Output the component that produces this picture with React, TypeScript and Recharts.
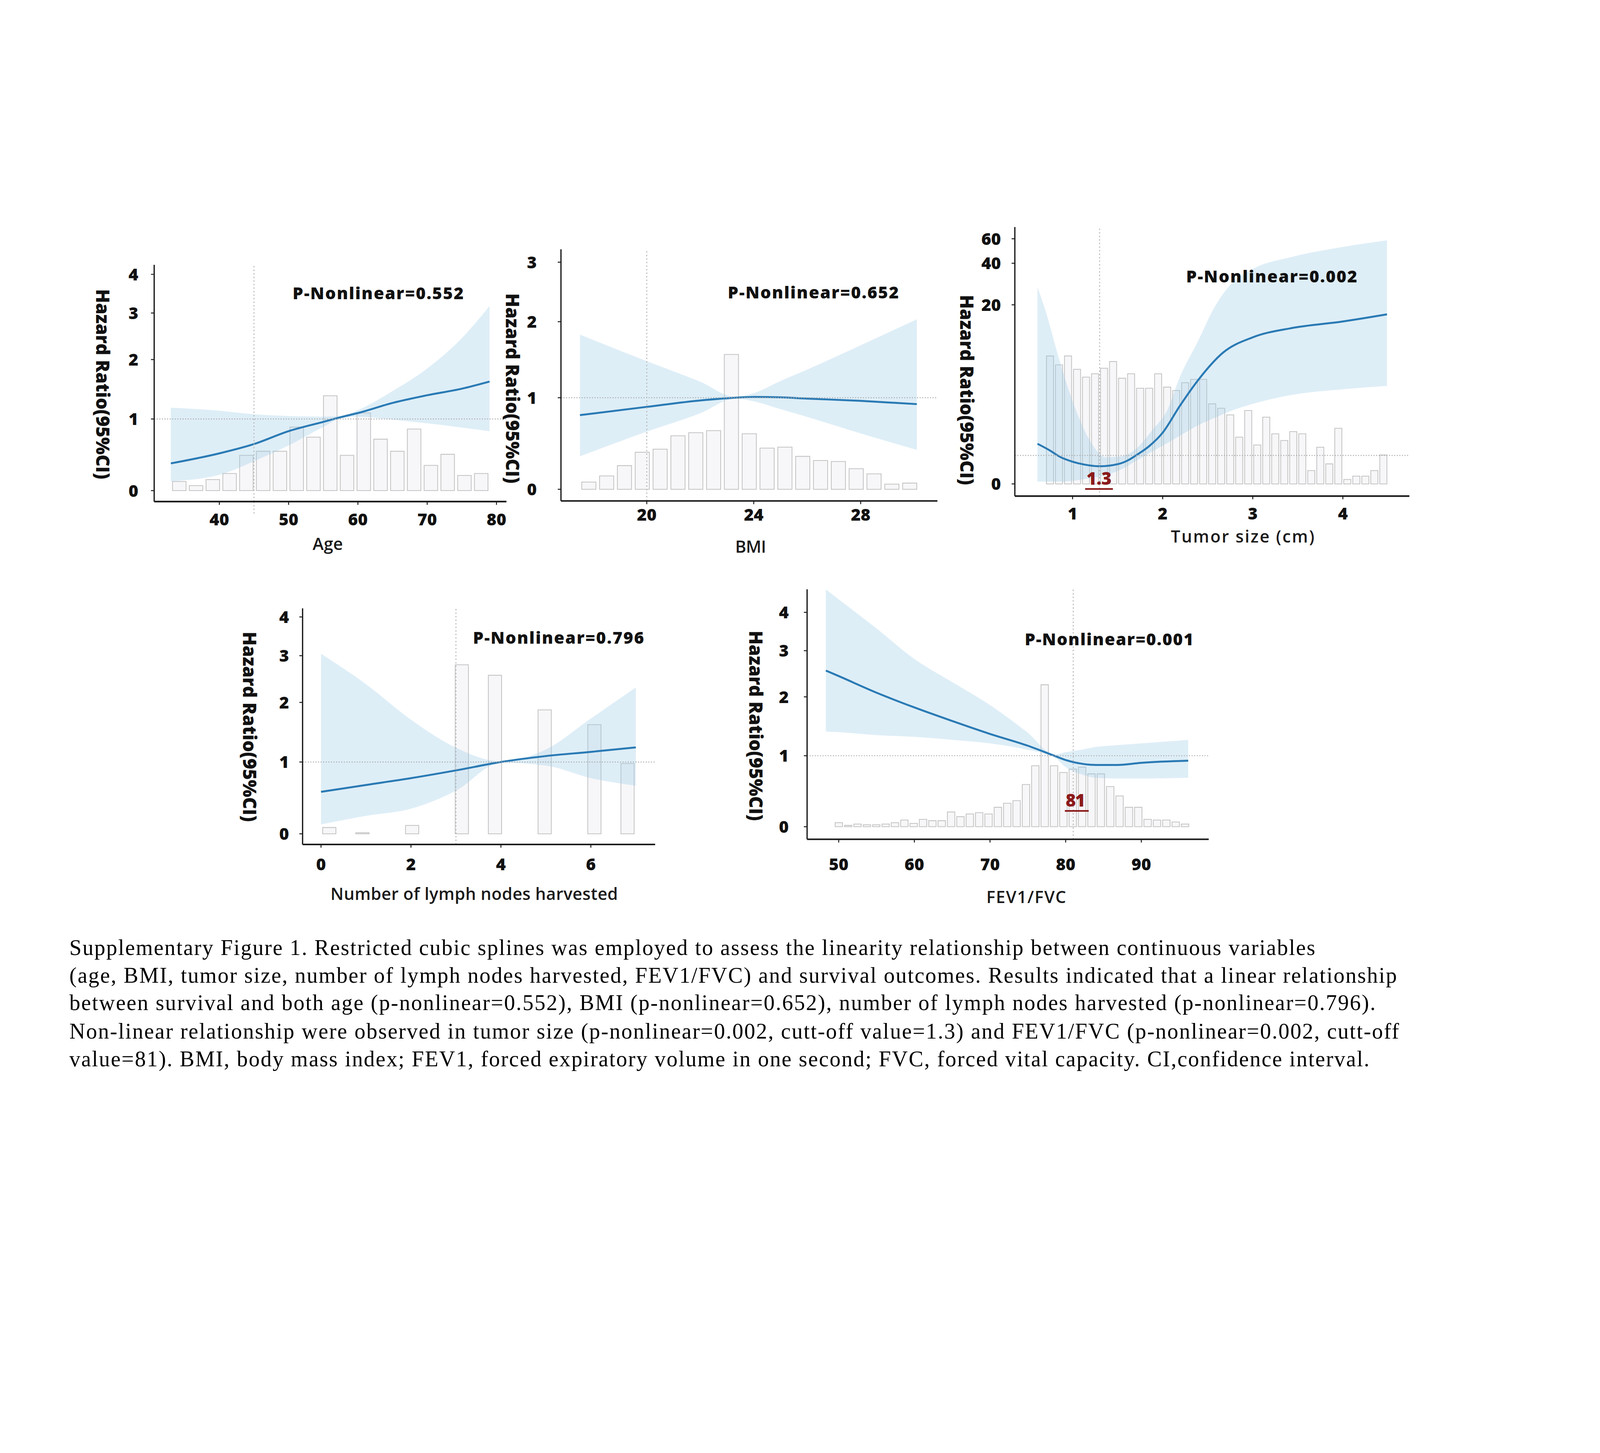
import React from 'react';
import { ComposedChart, Bar, Area, Line, XAxis, YAxis, ReferenceLine } from 'recharts';

const FONT = '"Open Sans", "Noto Sans", sans-serif';
const SERIF = '"Liberation Serif", "Times New Roman", serif';
const AXIS = '#1c1c1c';
const BLUE = '#2a7ab4';
const DARK_RED = '#8b1a1a';
const PAGE_W = 4960;
const PAGE_H = 3720;

if (typeof document !== 'undefined') {
  document.body.style.margin = '0';
  document.body.style.overflow = 'hidden';
}

// hazard ratio axis is stretched like the original figure (not linear)
const hrTickVals = [0, 1, 2, 3, 4];
const hrTickStops = [0, 1, 1.83, 2.48, 3.02];
const tumorTickVals = [0, 1, 20, 40, 60];
const tumorTickStops = [0, 0.159, 1, 1.232, 1.369];

function makeWarp(vals: number[], stops: number[]) {
  return (v: number) => {
    let i = 0;
    while (i < vals.length - 2 && v > vals[i + 1]) i++;
    const t = (v - vals[i]) / (vals[i + 1] - vals[i]);
    return stops[i] + t * (stops[i + 1] - stops[i]);
  };
}
const hrWarp = makeWarp(hrTickVals, hrTickStops);
const tumorWarp = makeWarp(tumorTickVals, tumorTickStops);

// ---- Age
const ageBinStart = 33;
const ageBinWidth = 46 / 19;
const ageCounts = [9, 5, 11, 17, 35, 39, 39, 63, 53, 94, 35, 77, 51, 39, 61, 25, 36, 15, 17];
const ageX = [33, 40, 45, 50, 55, 57.5, 60, 65, 70, 75, 79];
const ageHR = [0.38, 0.52, 0.65, 0.83, 0.96, 1.03, 1.1, 1.27, 1.4, 1.51, 1.63];
const ageLower = [0.13, 0.22, 0.41, 0.63, 0.89, 1.01, 1.04, 0.99, 0.94, 0.88, 0.83];
const ageUpper = [1.19, 1.14, 1.08, 1.05, 1.04, 1.05, 1.15, 1.47, 1.85, 2.46, 3.18];

// ---- BMI
const bmiBinStart = 17.5;
const bmiBinWidth = 2 / 3;
const bmiCounts = [7, 13, 23, 36, 39, 52, 55, 57, 131, 54, 40, 41, 32, 28, 27, 20, 15, 5, 6];
const bmiX = [17.5, 20, 22, 23.3, 24, 25, 26, 28, 30.1];
const bmiHR = [0.81, 0.9, 0.97, 1.0, 1.01, 1.005, 0.99, 0.966, 0.93];
const bmiLower = [0.36, 0.63, 0.83, 0.99, 0.96, 0.875, 0.79, 0.61, 0.43];
const bmiUpper = [1.83, 1.48, 1.21, 1.01, 1.06, 1.22, 1.37, 1.69, 2.04];

// ---- Tumor size
const tumorBinStart = 0.7;
const tumorBinWidth = 0.1;
const tumorCounts = [115, 107, 115, 103, 96, 99, 104, 110, 95, 99, 86, 86, 99, 87, 84, 91, 94, 94, 72, 68, 62, 42, 66, 35, 60, 45, 39, 47, 45, 12, 33, 18, 50, 4, 7, 7, 12, 26];
const tumorX = [0.61, 0.75, 0.86, 1.0, 1.13, 1.3, 1.51, 1.61, 1.71, 1.85, 2.0, 2.19, 2.4, 2.67, 3.0, 3.43, 4.0, 4.49];
const tumorHR = [2.47, 1.61, 0.95, 0.78, 0.68, 0.62, 0.7, 0.82, 1.05, 2.17, 3.87, 7.24, 10.6, 13.97, 15.9, 17.06, 17.9, 18.8];
const tumorBandX = [0.61, 0.69, 0.86, 1.03, 1.2, 1.37, 1.54, 1.71, 1.88, 2.06, 2.18, 2.4, 2.57, 2.74, 3.0, 3.43, 4.0, 4.49];
const tumorLower = [0.08, 0.08, 0.08, 0.12, 0.2, 0.31, 0.51, 0.82, 1.47, 2.6, 3.4, 4.84, 5.7, 6.53, 7.5, 8.63, 9.34, 9.77];
const tumorUpper = [28.5, 19.6, 12.8, 6.94, 2.74, 0.94, 0.97, 1.9, 4.14, 6.94, 10.6, 15.6, 19.6, 29.1, 37.2, 45.1, 53.3, 58.7];

// ---- Lymph nodes
const lymphBinStart = 0;
const lymphBinWidth = 7 / 19;
const lymphCounts = [6, 0, 1, 0, 0, 8, 0, 0, 161, 0, 151, 0, 0, 118, 0, 0, 104, 0, 67];
const lymphX = [0, 1, 2, 3, 4, 5, 6, 7];
const lymphHR = [0.585, 0.68, 0.775, 0.883, 1.0, 1.1, 1.17, 1.245];
const lymphLower = [0.13, 0.25, 0.35, 0.6, 0.99, 0.95, 0.775, 0.67];
const lymphUpper = [3.05, 2.39, 1.71, 1.24, 1.01, 1.21, 1.73, 2.32];

// ---- FEV1/FVC
const fevBinStart = 49.4;
const fevBinWidth = 1.237;
const fevCounts = [6, 2, 4, 3, 3, 4, 6, 10, 5, 11, 9, 9, 22, 15, 19, 21, 19, 29, 35, 39, 63, 91, 212, 91, 81, 86, 89, 79, 79, 60, 46, 29, 29, 11, 10, 10, 7, 4];
const fevX = [48.3, 50, 55, 60, 65, 70, 75, 78.5, 80, 82, 84, 86.8, 90, 96.2];
const fevHR = [2.57, 2.45, 2.09, 1.82, 1.59, 1.37, 1.17, 1.0, 0.94, 0.89, 0.87, 0.87, 0.9, 0.93];
const fevLower = [1.41, 1.4, 1.35, 1.32, 1.27, 1.21, 1.1, 0.98, 0.84, 0.74, 0.69, 0.68, 0.68, 0.69];
const fevUpper = [4.6, 4.34, 3.58, 2.82, 2.32, 1.86, 1.39, 1.02, 1.06, 1.1, 1.15, 1.18, 1.21, 1.27];

const captionLines = [
  'Supplementary Figure 1. Restricted cubic splines was employed to assess the linearity relationship between continuous variables',
  '(age, BMI, tumor size, number of lymph nodes harvested, FEV1/FVC) and survival outcomes. Results indicated that a linear relationship',
  'between survival and both age (p-nonlinear=0.552), BMI (p-nonlinear=0.652), number of lymph nodes harvested (p-nonlinear=0.796).',
  'Non-linear relationship were observed in tumor size (p-nonlinear=0.002, cutt-off value=1.3) and FEV1/FVC (p-nonlinear=0.002, cutt-off',
  'value=81). BMI, body mass index; FEV1, forced expiratory volume in one second; FVC, forced vital capacity. CI,confidence interval.',
];

interface PanelProps {
  plotX: number; plotY: number; plotW: number; plotH: number;
  xDomain: [number, number]; xTicks: number[];
  yDomain: [number, number]; yTicks: number[];
  warp: (v: number) => number;
  binStart: number; binWidth: number; counts: number[]; countsPerUnit: number;
  curveX: number[]; curveHR: number[];
  bandX: number[]; bandLo: number[]; bandHi: number[];
  cut: number; cutBelow?: number;
  xTickMargin: number; yTickMargin: number;
}

function XTick(props: any) {
  const { x, y, payload } = props;
  return (
    <text x={x} y={y} dy="0.71em" textAnchor="middle" fontFamily={FONT} fontWeight={800} fontSize={52} fill="#111">
      {payload.value}
    </text>
  );
}

function YTick(props: any) {
  const { x, y, payload, labelFor } = props;
  return (
    <text x={x} y={y} dy="0.36em" textAnchor="end" fontFamily={FONT} fontWeight={800} fontSize={52} fill="#111">
      {labelFor(payload.value)}
    </text>
  );
}

function Panel(s: PanelProps) {
  const padL = 260, padT = 30, padR = 30, padB = 250;
  const bins = s.counts.map((n, i) => ({ mid: s.binStart + (i + 0.5) * s.binWidth, n }));
  const curve = s.curveX.map((x, i) => ({ x, y: s.warp(s.curveHR[i]) }));
  const band = s.bandX.map((x, i) => ({ x, r: [s.warp(s.bandLo[i]), s.warp(s.bandHi[i])] }));
  const warpedTicks = s.yTicks.map(s.warp);
  const labelFor = (v: number) => {
    const i = warpedTicks.findIndex(t => Math.abs(t - v) < 1e-6);
    return i >= 0 ? String(s.yTicks[i]) : '';
  };

  return (
    <div style={{ position: 'absolute', left: s.plotX - padL, top: s.plotY - padT }}>
      <ComposedChart
        width={padL + s.plotW + padR}
        height={padT + s.plotH + padB}
        data={bins}
        margin={{ top: padT, right: padR, left: 0, bottom: 0 }}
      >
        <XAxis
          xAxisId="x" dataKey="x" type="number" domain={s.xDomain} allowDataOverflow
          ticks={s.xTicks} interval={0} height={padB} tickSize={10} tickMargin={s.xTickMargin}
          axisLine={{ stroke: AXIS, strokeWidth: 5 }} tickLine={{ stroke: AXIS, strokeWidth: 3 }}
          tick={<XTick />}
        />
        <XAxis xAxisId="bin" dataKey="mid" type="number" orientation="top" domain={s.xDomain} allowDataOverflow hide />
        <YAxis
          yAxisId="hr" type="number" domain={s.yDomain} allowDataOverflow
          ticks={warpedTicks} interval={0} width={padL} tickSize={10} tickMargin={s.yTickMargin}
          axisLine={{ stroke: AXIS, strokeWidth: 4 }} tickLine={{ stroke: AXIS, strokeWidth: 3 }}
          tick={<YTick labelFor={labelFor} />}
        />
        <YAxis
          yAxisId="cnt" type="number" orientation="right" allowDataOverflow hide
          domain={[s.yDomain[0] * s.countsPerUnit, s.yDomain[1] * s.countsPerUnit]}
        />
        <Bar
          xAxisId="bin" yAxisId="cnt" dataKey="n" barCategoryGap={0}
          fill="#f7f7f9" stroke="#c4c4c4" strokeWidth={2.5}
          isAnimationActive={false} zIndex={50}
        />
        <Area
          xAxisId="x" yAxisId="hr" data={band} dataKey="r" type="monotone"
          fill="#9ccbe8" fillOpacity={0.33} stroke="none"
          isAnimationActive={false} zIndex={100}
        />
        <Line
          xAxisId="x" yAxisId="hr" data={curve} dataKey="y" type="monotone"
          stroke={BLUE} strokeWidth={6} dot={false} activeDot={false}
          isAnimationActive={false}
        />
        <ReferenceLine xAxisId="x" yAxisId="hr" y={s.warp(1)} stroke="#a8a8a8" strokeWidth={3} strokeDasharray="3 5" />
        <ReferenceLine xAxisId="x" yAxisId="hr" x={s.cut} stroke="#b4b4b4" strokeWidth={3} strokeDasharray="4 7" />
        {s.cutBelow ? (
          <ReferenceLine
            xAxisId="x" yAxisId="hr" ifOverflow="visible"
            segment={[{ x: s.cut, y: s.yDomain[0] }, { x: s.cut, y: s.yDomain[0] - s.cutBelow }]}
            stroke="#b4b4b4" strokeWidth={3} strokeDasharray="4 7"
          />
        ) : null}
      </ComposedChart>
    </div>
  );
}

const panels: PanelProps[] = [
  {
    plotX: 478, plotY: 821, plotW: 1092, plotH: 734,
    xDomain: [30.6, 81.44], xTicks: [40, 50, 60, 70, 80],
    yDomain: [-0.153, 3.153], yTicks: hrTickVals, warp: hrWarp,
    binStart: ageBinStart, binWidth: ageBinWidth, counts: ageCounts, countsPerUnit: 71,
    curveX: ageX, curveHR: ageHR, bandX: ageX, bandLo: ageLower, bandHi: ageUpper,
    cut: 45, cutBelow: 0.19, xTickMargin: 27, yTickMargin: 39,
  },
  {
    plotX: 1739, plotY: 773, plotW: 1167, plotH: 780,
    xDomain: [16.79, 30.87], xTicks: [20, 24, 28],
    yDomain: [-0.127, 2.62], yTicks: [0, 1, 2, 3], warp: hrWarp,
    binStart: bmiBinStart, binWidth: bmiBinWidth, counts: bmiCounts, countsPerUnit: 89,
    curveX: bmiX, curveHR: bmiHR, bandX: bmiX, bandLo: bmiLower, bandHi: bmiUpper,
    cut: 20, xTickMargin: 14, yTickMargin: 65,
  },
  {
    plotX: 3146, plotY: 704, plotW: 1223, plotH: 834,
    xDomain: [0.359, 4.738], xTicks: [1, 2, 3, 4],
    yDomain: [-0.068, 1.434], yTicks: [0, 20, 40, 60], warp: tumorWarp,
    binStart: tumorBinStart, binWidth: tumorBinWidth, counts: tumorCounts, countsPerUnit: 161,
    curveX: tumorX, curveHR: tumorHR, bandX: tumorBandX, bandLo: tumorLower, bandHi: tumorUpper,
    cut: 1.3, xTickMargin: 26, yTickMargin: 33,
  },
  {
    plotX: 938, plotY: 1886, plotW: 1093, plotH: 732,
    xDomain: [-0.41, 7.43], xTicks: [0, 2, 4, 6],
    yDomain: [-0.148, 3.14], yTicks: hrTickVals, warp: hrWarp,
    binStart: lymphBinStart, binWidth: lymphBinWidth, counts: lymphCounts, countsPerUnit: 68.4,
    curveX: lymphX, curveHR: lymphHR, bandX: lymphX, bandLo: lymphLower, bandHi: lymphUpper,
    cut: 3, xTickMargin: 33, yTickMargin: 32,
  },
  {
    plotX: 2502, plotY: 1827, plotW: 1245, plotH: 775,
    xDomain: [45.82, 98.91], xTicks: [50, 60, 70, 80, 90],
    yDomain: [-0.177, 3.345], yTicks: hrTickVals, warp: hrWarp,
    binStart: fevBinStart, binWidth: fevBinWidth, counts: fevCounts, countsPerUnit: 106,
    curveX: fevX, curveHR: fevHR, bandX: fevX, bandLo: fevLower, bandHi: fevUpper,
    cut: 81, xTickMargin: 49, yTickMargin: 47,
  },
];

// annotation text placed on the page
const pTexts = [
  { t: 'P-Nonlinear=0.552', x: 1172, y: 928, w: 530 },
  { t: 'P-Nonlinear=0.652', x: 2521, y: 925, w: 530 },
  { t: 'P-Nonlinear=0.002', x: 3942, y: 876, w: 530 },
  { t: 'P-Nonlinear=0.796', x: 1731, y: 1996, w: 530 },
  { t: 'P-Nonlinear=0.001', x: 3438, y: 2000, w: 523 },
];
const yTitles = [
  { x: 320, y: 1191 }, { x: 1590, y: 1204 }, { x: 2998, y: 1209 }, { x: 775, y: 2253 }, { x: 2344, y: 2250 },
];
const xTitles = [
  { t: 'Age', x: 1016, y: 1705, w: 94 },
  { t: 'BMI', x: 2327, y: 1714, w: 96 },
  { t: 'Tumor size  (cm)', x: 3852, y: 1682, w: 445 },
  { t: 'Number of lymph nodes harvested', x: 1470, y: 2790, w: 891 },
  { t: 'FEV1/FVC', x: 3181, y: 2800, w: 247 },
];
const cutLabels = [
  { t: '1.3', x: 3407, y: 1503, w: 78, ux1: 3364, ux2: 3450, uy: 1516 },
  { t: '81', x: 3334, y: 2501, w: 61, ux1: 3301, ux2: 3375, uy: 2514 },
];
const captionBaselines = [2961, 3047, 3132, 3220, 3306];
const captionWidths = [3862, 4115, 4049, 4122, 4030];

export default function App() {
  // the browser may give a narrower window than asked for, so fit the page to it
  const vw = typeof window !== 'undefined' ? window.innerWidth : PAGE_W;
  const vh = typeof window !== 'undefined' ? window.innerHeight : PAGE_H;
  const fit = Math.min(1, vw / PAGE_W, vh / PAGE_H);
  return (
    <div style={{
      position: 'absolute', left: 0, top: 0, width: PAGE_W, height: PAGE_H, background: '#fff',
      overflow: 'hidden', transform: `scale(${fit})`, transformOrigin: '0 0',
    }}>
      {panels.map((p, i) => <Panel key={i} {...p} />)}
      <svg width={PAGE_W} height={PAGE_H} style={{ position: 'absolute', left: 0, top: 0, pointerEvents: 'none' }}>
        {pTexts.map((p, i) => (
          <text key={'p' + i} x={p.x} y={p.y} textAnchor="middle" fontFamily={FONT} fontWeight={800} fontSize={52}
            fill="#111" textLength={p.w} lengthAdjust="spacing">{p.t}</text>
        ))}
        {yTitles.map((p, i) => (
          <text key={'y' + i} x={p.x} y={p.y} transform={`rotate(90 ${p.x} ${p.y})`} textAnchor="middle"
            dominantBaseline="central" fontFamily={FONT} fontWeight={800} fontSize={57} fill="#111"
            textLength={590} lengthAdjust="spacing">Hazard Ratio(95%CI)</text>
        ))}
        {xTitles.map((p, i) => (
          <text key={'x' + i} x={p.x} y={p.y} textAnchor="middle" fontFamily={FONT} fontWeight={600} fontSize={52}
            fill="#1a1a1a" textLength={p.w} lengthAdjust="spacing">{p.t}</text>
        ))}
        {cutLabels.map((c, i) => (
          <g key={'c' + i}>
            <text x={c.x} y={c.y} textAnchor="middle" fontFamily={FONT} fontWeight={800} fontSize={54}
              fill={DARK_RED} textLength={c.w} lengthAdjust="spacing">{c.t}</text>
            <line x1={c.ux1} x2={c.ux2} y1={c.uy} y2={c.uy} stroke={DARK_RED} strokeWidth={5} />
          </g>
        ))}
        {captionLines.map((line, i) => (
          <text key={'cap' + i} x={215} y={captionBaselines[i]} fontFamily={SERIF} fontSize={68} fill="#000"
            textLength={captionWidths[i]} lengthAdjust="spacing">{line}</text>
        ))}
      </svg>
    </div>
  );
}
